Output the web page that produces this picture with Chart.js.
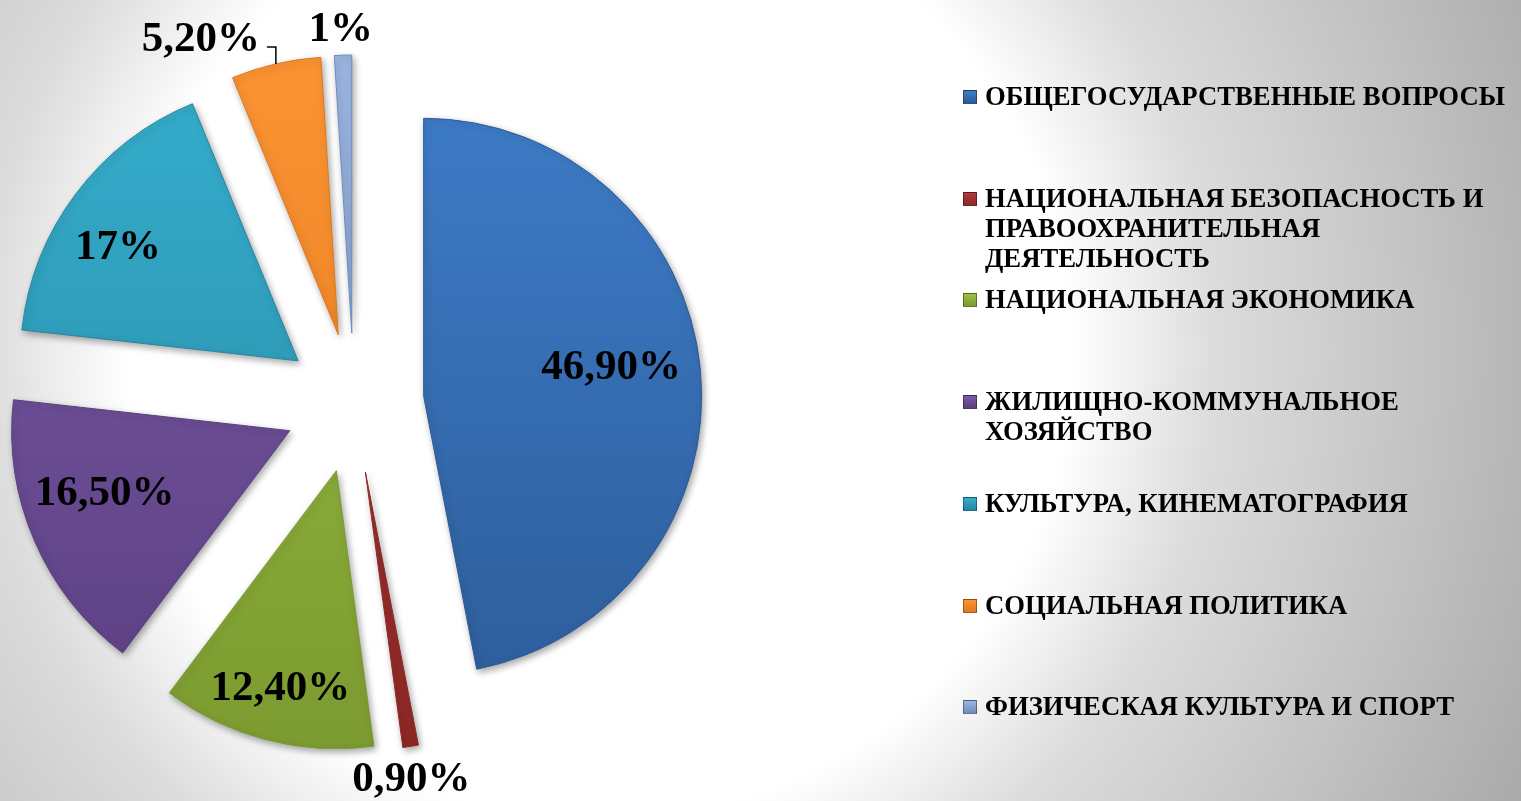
<!DOCTYPE html>
<html>
<head>
<meta charset="utf-8">
<script src="https://cdn.jsdelivr.net/npm/chart.js@4"></script>
<style>
    html, body {
        margin: 0;
        padding: 0;
    }
    body {
        width: 1521px;
        height: 801px;
        overflow: hidden;
        position: relative;
        background: radial-gradient(circle at 600px 350px, #fff 0px, #fff 470px, #dcdcdc 615px, #c8c8c8 780px, #a9a9a9 1030px);
    }
    #box {
        position: absolute;
        left: 0;
        top: 0;
        width: 1521px;
        height: 801px;
    }
    #legend {
        position: absolute;
        left: 963px;
        top: 0;
        font: bold 26.7px "Liberation Serif", "Times New Roman", serif;
        line-height: 30px;
        color: #000;
    }
    .item {
        position: absolute;
        left: 0;
        display: flex;
        white-space: nowrap;
    }
    .mark {
        flex: none;
        width: 12px;
        height: 12px;
        margin-top: 9px;
        margin-right: 8px;
        border: 1px solid rgba(0,0,0,0.35);
    }
</style>
</head>
<body>
<div id="box"><canvas id="pie"></canvas></div>
<div id="legend"></div>
<script>
// categories (legend lines as in the picture)
const categories = [
    ["ОБЩЕГОСУДАРСТВЕННЫЕ ВОПРОСЫ"],
    ["НАЦИОНАЛЬНАЯ БЕЗОПАСНОСТЬ И", "ПРАВООХРАНИТЕЛЬНАЯ", "ДЕЯТЕЛЬНОСТЬ"],
    ["НАЦИОНАЛЬНАЯ ЭКОНОМИКА"],
    ["ЖИЛИЩНО-КОММУНАЛЬНОЕ", "ХОЗЯЙСТВО"],
    ["КУЛЬТУРА, КИНЕМАТОГРАФИЯ"],
    ["СОЦИАЛЬНАЯ ПОЛИТИКА"],
    ["ФИЗИЧЕСКАЯ КУЛЬТУРА И СПОРТ"]
]
const shares = [46.9, 0.9, 12.4, 16.5, 17, 5.2, 1]
const shareLabels = ["46,90%", "0,90%", "12,40%", "16,50%", "17%", "5,20%", "1%"]

const topColors = ["#3f7ecb", "#b23a38", "#9cc244", "#7c5aa9", "#35aece", "#fb9333", "#9ab5e0"]
const bottomColors = ["#2c5a96", "#8c2826", "#7b9a30", "#5a3f80", "#27869f", "#e0781c", "#6f8cbd"]

// where each value label sits: fraction along the slice angle, fraction of radius
const labelT = [0.477, 0.75, 0.5, 0.59, 0.43, -0.13, 0.42]
const labelR = [0.683, 1.11, 0.8, 0.70, 0.77, 1.18, 1.10]
const leader = [false, false, false, false, false, true, false]

const explode = {
    id: "explode",
    afterDatasetsUpdate(chart, args, opts) {
        chart.getDatasetMeta(0).data.forEach(arc => {
            const mid = (arc.startAngle + arc.endAngle) / 2
            arc.x += Math.cos(mid) * opts.distance
            arc.y += Math.sin(mid) * opts.distance
        })
    },
    beforeDatasetsDraw(chart) {
        const ctx = chart.ctx
        ctx.save()
        ctx.shadowColor = "rgba(0,0,0,0.35)"
        ctx.shadowBlur = 7
        ctx.shadowOffsetX = 2
        ctx.shadowOffsetY = 3
    },
    afterDatasetsDraw(chart) {
        const ctx = chart.ctx
        ctx.restore()
        ctx.save()
        ctx.font = 'bold 43px "Liberation Serif", "Times New Roman", serif'
        ctx.fillStyle = "#000"
        ctx.strokeStyle = "#000"
        ctx.lineWidth = 1.5
        ctx.textAlign = "center"
        ctx.textBaseline = "alphabetic"
        chart.getDatasetMeta(0).data.forEach((arc, i) => {
            const a = arc.startAngle + (arc.endAngle - arc.startAngle) * labelT[i]
            const r = arc.outerRadius * labelR[i]
            const x = arc.x + Math.cos(a) * r
            const y = arc.y + Math.sin(a) * r
            ctx.fillText(shareLabels[i], x, y + 14)
            if (leader[i]) {
                const w = ctx.measureText(shareLabels[i]).width
                const mid = (arc.startAngle + arc.endAngle) / 2
                const ex = arc.x + Math.cos(mid) * arc.outerRadius
                const ey = arc.y + Math.sin(mid) * arc.outerRadius
                ctx.beginPath()
                ctx.moveTo(x + w / 2 + 7, y + 10)
                ctx.lineTo(ex, y + 10)
                ctx.lineTo(ex, ey)
                ctx.stroke()
            }
        })
        ctx.restore()
    }
}

function sliceFill(context) {
    const i = context.dataIndex
    const g = context.chart.ctx.createLinearGradient(0, 55, 0, 755)
    g.addColorStop(0, topColors[i])
    g.addColorStop(1, bottomColors[i])
    return g
}

new Chart("pie", {
    type: "pie",
    data: {
        labels: categories,
        datasets: [{
            data: shares,
            backgroundColor: sliceFill,
            borderColor: bottomColors,
            borderWidth: 1,
            radius: 278,
            clip: false
        }]
    },
    options: {
        responsive: true,
        maintainAspectRatio: false,
        animation: false,
        events: [],
        layout: {
            padding: {left: 0, right: 813, top: 5, bottom: 0}
        },
        plugins: {
            legend: {display: false},
            tooltip: {enabled: false},
            explode: {distance: 70}
        }
    },
    plugins: [explode]
})

// legend on the right
const legend = document.getElementById("legend")
categories.forEach((lines, i) => {
    const item = document.createElement("div")
    item.className = "item"
    item.style.top = (81 + i * 101.7) + "px"
    const mark = document.createElement("span")
    mark.className = "mark"
    mark.style.background = `linear-gradient(to bottom, ${topColors[i]}, ${bottomColors[i]})`
    const text = document.createElement("span")
    text.innerHTML = lines.join("<br>")
    item.appendChild(mark)
    item.appendChild(text)
    legend.appendChild(item)
})
</script>
</body>
</html>
